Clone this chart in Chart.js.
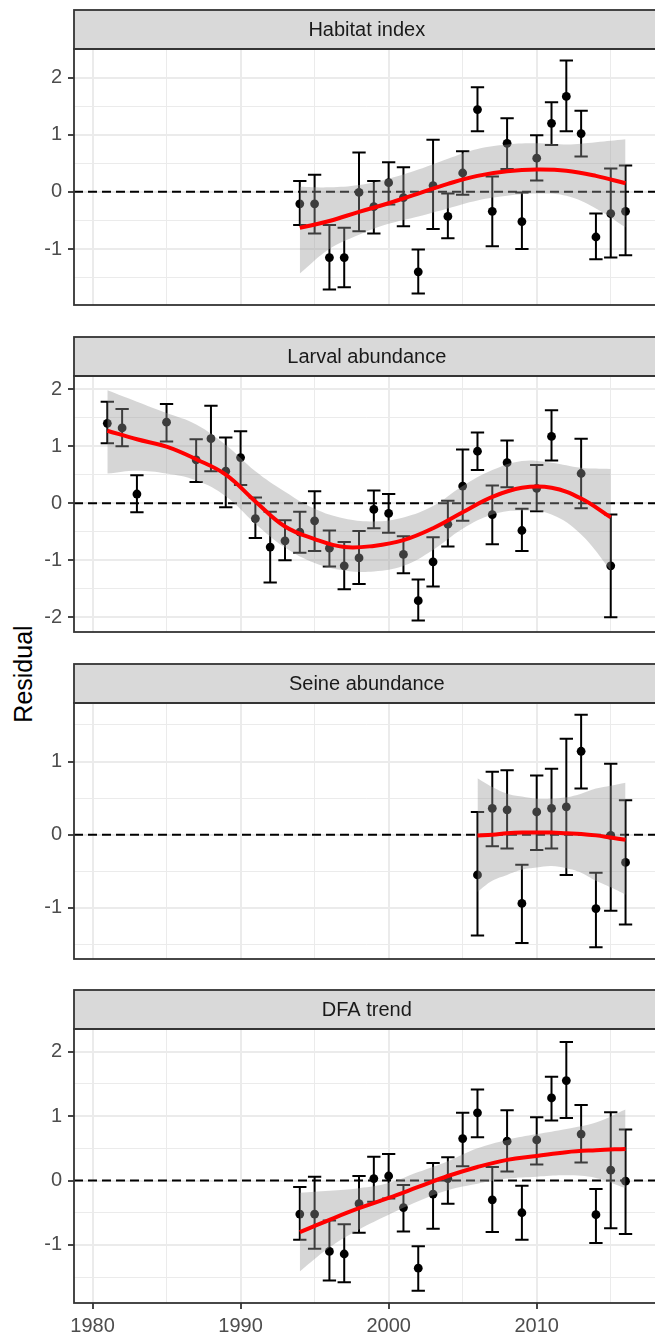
<!DOCTYPE html>
<html>
<head>
<meta charset="utf-8">
<script src="https://cdn.jsdelivr.net/npm/chart.js@4.4.1/dist/chart.umd.min.js"></script>
<style>
    body { margin: 0; background: #fff; width: 655px; height: 1336px; overflow: hidden; position: relative; }
    .panel { position: absolute; left: 0; }
    #y-title {
        position: absolute; left: 23px; top: 674px;
        transform: translate(-50%, -50%) rotate(-90deg);
        font: 25px "Liberation Sans", Arial, sans-serif; color: #000; white-space: nowrap;
    }
</style>
</head>
<body>
<div id="y-title">Residual</div>
<div class="panel" id="panel-0"><canvas id="chart-0"></canvas></div>
<div class="panel" id="panel-1"><canvas id="chart-1"></canvas></div>
<div class="panel" id="panel-2"><canvas id="chart-2"></canvas></div>
<div class="panel" id="panel-3"><canvas id="chart-3"></canvas></div>
<script>
// ---- data ----
const xTicks = [1980, 1985, 1990, 1995, 2000, 2005, 2010, 2015];

// Habitat index
const habYears = [1994, 1995, 1996, 1997, 1998, 1999, 2000, 2001, 2002, 2003, 2004, 2005, 2006, 2007, 2008, 2009, 2010, 2011, 2012, 2013, 2014, 2015, 2016];
const habVal  = [-0.21, -0.21, -1.15, -1.15, -0.01, -0.26, 0.16, -0.10, -1.40, 0.11, -0.43, 0.33, 1.44, -0.34, 0.85, -0.52, 0.59, 1.20, 1.67, 1.02, -0.79, -0.38, -0.34];
const habLow  = [-0.58, -0.73, -1.71, -1.67, -0.69, -0.73, -0.22, -0.60, -1.78, -0.65, -0.81, -0.05, 1.06, -0.95, 0.40, -1.00, 0.20, 0.82, 1.06, 0.62, -1.18, -1.15, -1.11];
const habHigh = [0.19, 0.30, -0.58, -0.63, 0.69, 0.19, 0.52, 0.43, -1.01, 0.91, -0.03, 0.71, 1.83, 0.27, 1.29, -0.01, 0.99, 1.57, 2.30, 1.42, -0.38, 0.41, 0.46];
const habFitYears = [1994, 1996, 1998, 2000, 2002, 2004, 2006, 2008, 2010, 2012, 2014, 2016];
const habFit   = [-0.63, -0.51, -0.35, -0.20, -0.03, 0.14, 0.28, 0.36, 0.39, 0.37, 0.28, 0.15];
const habUpper = [0.09, 0.08, 0.12, 0.23, 0.39, 0.58, 0.75, 0.83, 0.85, 0.83, 0.87, 0.92];
const habLower = [-1.43, -1.00, -0.75, -0.56, -0.43, -0.29, -0.15, -0.07, -0.03, -0.07, -0.29, -0.62];
const habTicks = [-1.5, -1, -0.5, 0, 0.5, 1, 1.5, 2];

// Larval abundance
const larYears = [1981, 1982, 1983, 1985, 1987, 1988, 1989, 1990, 1991, 1992, 1993, 1994, 1995, 1996, 1997, 1998, 1999, 2000, 2001, 2002, 2003, 2004, 2005, 2006, 2007, 2008, 2009, 2010, 2011, 2013, 2015];
const larVal  = [1.40, 1.32, 0.16, 1.42, 0.76, 1.13, 0.56, 0.80, -0.27, -0.77, -0.66, -0.51, -0.31, -0.79, -1.10, -0.96, -0.11, -0.18, -0.90, -1.71, -1.03, -0.37, 0.30, 0.91, -0.20, 0.71, -0.48, 0.26, 1.17, 0.52, -1.10];
const larLow  = [1.05, 1.00, -0.16, 1.08, 0.37, 0.56, -0.07, 0.32, -0.61, -1.39, -1.00, -0.87, -0.84, -1.11, -1.51, -1.42, -0.44, -0.52, -1.23, -2.06, -1.46, -0.76, -0.31, 0.58, -0.72, 0.28, -0.84, -0.14, 0.75, -0.09, -2.00];
const larHigh = [1.78, 1.65, 0.49, 1.74, 1.12, 1.71, 1.15, 1.26, 0.10, -0.15, -0.30, -0.15, 0.21, -0.48, -0.68, -0.49, 0.22, 0.16, -0.58, -1.34, -0.60, 0.04, 0.94, 1.24, 0.31, 1.10, -0.10, 0.67, 1.63, 1.13, -0.20];
const larFitYears = [1981, 1983, 1985, 1987, 1989, 1991, 1993, 1995, 1997, 1999, 2001, 2003, 2005, 2007, 2009, 2011, 2013, 2015];
const larFit   = [1.27, 1.12, 0.99, 0.77, 0.50, 0.03, -0.41, -0.63, -0.77, -0.75, -0.65, -0.44, -0.16, 0.11, 0.27, 0.27, 0.08, -0.25];
const larUpper = [1.98, 1.78, 1.58, 1.38, 1.02, 0.56, 0.20, -0.10, -0.27, -0.32, -0.25, -0.05, 0.30, 0.58, 0.74, 0.71, 0.62, 0.60];
const larLower = [0.52, 0.57, 0.52, 0.40, 0.12, -0.36, -0.78, -1.05, -1.18, -1.20, -1.10, -0.82, -0.45, -0.20, -0.13, -0.20, -0.55, -1.18];
const larTicks = [-2, -1.5, -1, -0.5, 0, 0.5, 1, 1.5, 2];

// Seine abundance
const seiYears = [2006, 2007, 2008, 2009, 2010, 2011, 2012, 2013, 2014, 2015, 2016];
const seiVal  = [-0.55, 0.36, 0.34, -0.94, 0.31, 0.36, 0.38, 1.14, -1.01, -0.01, -0.38];
const seiLow  = [-1.38, -0.16, -0.19, -1.48, -0.21, -0.19, -0.55, 0.63, -1.54, -1.04, -1.23];
const seiHigh = [0.31, 0.86, 0.88, -0.41, 0.81, 0.90, 1.31, 1.64, -0.52, 0.97, 0.47];
const seiFitYears = [2006, 2007, 2008, 2009, 2010, 2011, 2012, 2013, 2014, 2015, 2016];
const seiFit   = [-0.01, 0.00, 0.02, 0.03, 0.03, 0.03, 0.02, 0.01, -0.01, -0.04, -0.07];
const seiUpper = [0.77, 0.65, 0.56, 0.52, 0.49, 0.49, 0.51, 0.56, 0.63, 0.67, 0.71];
const seiLower = [-0.78, -0.63, -0.55, -0.48, -0.45, -0.43, -0.46, -0.52, -0.63, -0.72, -0.82];
const seiTicks = [-1.5, -1, -0.5, 0, 0.5, 1, 1.5];

// DFA trend
const dfaYears = [1994, 1995, 1996, 1997, 1998, 1999, 2000, 2001, 2002, 2003, 2004, 2005, 2006, 2007, 2008, 2009, 2010, 2011, 2012, 2013, 2014, 2015, 2016];
const dfaVal  = [-0.52, -0.52, -1.10, -1.14, -0.36, 0.03, 0.07, -0.42, -1.36, -0.21, 0.03, 0.65, 1.05, -0.30, 0.61, -0.50, 0.63, 1.28, 1.55, 0.72, -0.53, 0.16, -0.01];
const dfaLow  = [-0.92, -1.06, -1.55, -1.58, -0.81, -0.33, -0.28, -0.79, -1.71, -0.75, -0.36, 0.22, 0.67, -0.80, 0.14, -0.92, 0.25, 0.93, 0.97, 0.28, -0.97, -0.74, -0.83];
const dfaHigh = [-0.10, 0.06, -0.62, -0.68, 0.07, 0.37, 0.41, -0.07, -1.02, 0.27, 0.36, 1.05, 1.41, 0.21, 1.09, -0.08, 0.98, 1.61, 2.15, 1.17, -0.13, 1.06, 0.79];
const dfaFitYears = [1994, 1996, 1998, 2000, 2002, 2004, 2006, 2008, 2010, 2012, 2014, 2016];
const dfaFit   = [-0.80, -0.61, -0.43, -0.27, -0.10, 0.07, 0.21, 0.32, 0.38, 0.44, 0.47, 0.49];
const dfaUpper = [-0.19, -0.16, -0.12, -0.04, 0.13, 0.30, 0.50, 0.63, 0.72, 0.80, 0.90, 1.10];
const dfaLower = [-1.41, -1.04, -0.76, -0.53, -0.32, -0.15, -0.05, 0.03, 0.06, 0.08, 0.04, -0.12];
const dfaTicks = [-1.5, -1, -0.5, 0, 0.5, 1, 1.5, 2];

const panels = [
    { title: 'Habitat index', years: habYears, val: habVal, low: habLow, high: habHigh,
      fitYears: habFitYears, fit: habFit, upper: habUpper, lower: habLower, ticks: habTicks, yMin: -1.98, yMax: 2.50 },
    { title: 'Larval abundance', years: larYears, val: larVal, low: larLow, high: larHigh,
      fitYears: larFitYears, fit: larFit, upper: larUpper, lower: larLower, ticks: larTicks, yMin: -2.26, yMax: 2.23 },
    { title: 'Seine abundance', years: seiYears, val: seiVal, low: seiLow, high: seiHigh,
      fitYears: seiFitYears, fit: seiFit, upper: seiUpper, lower: seiLower, ticks: seiTicks, yMin: -1.70, yMax: 1.80 },
    { title: 'DFA trend', years: dfaYears, val: dfaVal, low: dfaLow, high: dfaHigh,
      fitYears: dfaFitYears, fit: dfaFit, upper: dfaUpper, lower: dfaLower, ticks: dfaTicks, yMin: -1.90, yMax: 2.35 }
];

// ---- layout ----
const FONT = '"Liberation Sans", Arial, sans-serif';
const xMin = 1978.75, xMax = 2018.3;
const stripH = 40, plotH = 274, axisH = 34, plotW = 664, leftW = 74;
const panelTops = [9, 336, 663, 989];

Chart.defaults.font.family = FONT;
Chart.defaults.animation = false;

const isMajor = v => Math.abs(v - Math.round(v)) < 1e-9;

// strip label, panel border, zero line and error bars
const facetPlugin = {
    id: 'facet',
    beforeDatasetsDraw(chart) {
        const { ctx, chartArea: a, scales: { x, y } } = chart;
        ctx.save();
        ctx.beginPath();
        ctx.rect(a.left, a.top, a.right - a.left, a.bottom - a.top);
        ctx.clip();
        // dashed reference line at 0
        const y0 = y.getPixelForValue(0);
        ctx.strokeStyle = '#000';
        ctx.lineWidth = 2;
        ctx.setLineDash([9, 5]);
        ctx.beginPath();
        ctx.moveTo(a.left, y0);
        ctx.lineTo(a.right, y0);
        ctx.stroke();
        ctx.setLineDash([]);
        // error bars
        const p = chart.options.plugins.facet;
        ctx.lineWidth = 2;
        p.years.forEach((yr, i) => {
            const px = x.getPixelForValue(yr);
            const l = x.getPixelForValue(yr - 0.45), r = x.getPixelForValue(yr + 0.45);
            const yl = y.getPixelForValue(p.low[i]), yh = y.getPixelForValue(p.high[i]);
            ctx.beginPath();
            ctx.moveTo(px, yl); ctx.lineTo(px, yh);
            ctx.moveTo(l, yl); ctx.lineTo(r, yl);
            ctx.moveTo(l, yh); ctx.lineTo(r, yh);
            ctx.stroke();
        });
        ctx.restore();
    },
    afterDraw(chart) {
        const { ctx, chartArea: a } = chart;
        const p = chart.options.plugins.facet;
        ctx.save();
        ctx.strokeStyle = '#333333';
        ctx.lineWidth = 1.8;
        // strip
        ctx.fillStyle = '#D9D9D9';
        ctx.fillRect(a.left, 1, a.right - a.left, a.top - 1);
        ctx.strokeRect(a.left, 1, a.right - a.left, a.top - 1);
        ctx.fillStyle = '#1A1A1A';
        ctx.font = '20px ' + FONT;
        ctx.textAlign = 'center';
        ctx.textBaseline = 'middle';
        ctx.fillText(p.title, (a.left + a.right) / 2, (a.top + 1) / 2 + 1);
        // panel border
        ctx.strokeRect(a.left, a.top, a.right - a.left, a.bottom - a.top);
        ctx.restore();
    }
};

panels.forEach((p, k) => {
    const last = k === panels.length - 1;
    const holder = document.getElementById('panel-' + k);
    holder.style.top = panelTops[k] + 'px';
    const canvas = document.getElementById('chart-' + k);
    canvas.width = plotW;
    canvas.height = stripH + plotH + (last ? axisH : 0);

    new Chart(canvas.getContext('2d'), {
        type: 'scatter',
        data: {
            datasets: [
                {
                    type: 'line',
                    data: p.fitYears.map((yr, i) => ({ x: yr, y: p.fit[i] })),
                    borderColor: '#FF0000',
                    borderWidth: 4,
                    pointRadius: 0,
                    tension: 0.4,
                    fill: false,
                    order: 1
                },
                {
                    type: 'line',
                    data: p.fitYears.map((yr, i) => ({ x: yr, y: p.upper[i] })),
                    borderColor: 'rgba(0,0,0,0)',
                    borderWidth: 0,
                    backgroundColor: 'rgba(153,153,153,0.4)',
                    pointRadius: 0,
                    tension: 0.4,
                    fill: '+1',
                    order: 2
                },
                {
                    type: 'line',
                    data: p.fitYears.map((yr, i) => ({ x: yr, y: p.lower[i] })),
                    borderColor: 'rgba(0,0,0,0)',
                    borderWidth: 0,
                    pointRadius: 0,
                    tension: 0.4,
                    fill: false,
                    order: 3
                },
                {
                    data: p.years.map((yr, i) => ({ x: yr, y: p.val[i] })),
                    backgroundColor: '#000',
                    borderWidth: 0,
                    pointRadius: 4.4,
                    order: 4
                }
            ]
        },
        options: {
            responsive: false,
            animation: false,
            layout: { padding: { top: stripH, left: 0, right: 0, bottom: 0 } },
            plugins: {
                legend: { display: false },
                tooltip: { enabled: false },
                facet: { title: p.title, years: p.years, low: p.low, high: p.high }
            },
            scales: {
                x: {
                    type: 'linear',
                    min: xMin,
                    max: xMax,
                    afterBuildTicks: s => { s.ticks = xTicks.map(v => ({ value: v })); },
                    afterFit: s => { s.height = last ? axisH : 0; },
                    ticks: {
                        display: last,
                        autoSkip: false,
                        maxRotation: 0,
                        padding: 5,
                        color: '#4D4D4D',
                        font: { size: 20 },
                        callback: v => (v % 10 === 0 ? String(v) : '')
                    },
                    grid: {
                        color: '#EBEBEB',
                        lineWidth: c => (c.tick && c.tick.value % 10 === 0 ? 2 : 1),
                        drawTicks: last,
                        tickLength: 6,
                        tickWidth: 1.8,
                        tickColor: c => (c.tick && c.tick.value % 10 === 0 ? '#333333' : 'rgba(0,0,0,0)')
                    },
                    border: { display: false }
                },
                y: {
                    min: p.yMin,
                    max: p.yMax,
                    afterBuildTicks: s => { s.ticks = p.ticks.map(v => ({ value: v })); },
                    afterFit: s => { s.width = leftW; },
                    ticks: {
                        padding: 6,
                        color: '#4D4D4D',
                        font: { size: 20 },
                        callback: v => (isMajor(v) ? String(Math.round(v)) : '')
                    },
                    grid: {
                        color: '#EBEBEB',
                        lineWidth: c => (c.tick && isMajor(c.tick.value) ? 2 : 1),
                        tickLength: 6,
                        tickWidth: 1.8,
                        tickColor: c => (c.tick && isMajor(c.tick.value) ? '#333333' : 'rgba(0,0,0,0)')
                    },
                    border: { display: false }
                }
            }
        },
        plugins: [facetPlugin]
    });
});
</script>
</body>
</html>
